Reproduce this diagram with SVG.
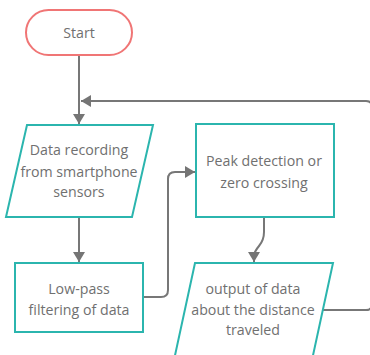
<svg xmlns="http://www.w3.org/2000/svg" width="370" height="355" viewBox="0 0 370 355">
<defs>
<marker id="ah" markerWidth="12" markerHeight="12" refX="10" refY="6" orient="auto" markerUnits="userSpaceOnUse">
<path d="M0,0 L10,6 L0,12 Z" fill="#757575"/>
</marker>
<style>
.box{fill:#fff;stroke:#2bb5ae;stroke-width:2}
.start{fill:#fff;stroke:#f07575;stroke-width:2}
.lbl{font-family:"Open Sans","Noto Sans",sans-serif;font-size:14.2px;fill:#707070;text-anchor:middle}
.con{fill:none;stroke:#777;stroke-width:2;marker-end:url(#ah)}
</style>
</defs>
<rect width="370" height="355" fill="#fff"/>
<g id="connectors">
<path class="con" d="M79,55 V124"/>
<path class="con" d="M323,310 H366 Q372,310 372,304 V107 Q372,101 366,101 H81"/>
<path class="con" d="M79,217 V262"/>
<path class="con" d="M143,297 H161 Q168,297 168,290 V179 Q168,172 175,172 H195"/>
<path class="con" d="M264,217 V232 Q264,240 259,246 Q254,252 254,256 V262"/>
</g>
<g id="start">
<rect class="start" x="26" y="10" width="106" height="45" rx="22.5"/>
<text class="lbl" x="79" y="38">Start</text>
</g>
<g id="data-recording">
<polygon class="box" points="27,125 153,125 132,217 6,217"/>
<text class="lbl" x="79" y="155">Data recording</text>
<text class="lbl" x="79" y="177">from smartphone</text>
<text class="lbl" x="79" y="197">sensors</text>
</g>
<g id="low-pass">
<rect class="box" x="15" y="263" width="128" height="69"/>
<text class="lbl" x="79" y="294">Low-pass</text>
<text class="lbl" x="79" y="315">filtering of data</text>
</g>
<g id="peak-detection">
<rect class="box" x="196" y="124" width="138" height="93"/>
<text class="lbl" x="264" y="166">Peak detection or</text>
<text class="lbl" x="264" y="188">zero crossing</text>
</g>
<g id="output">
<polygon class="box" points="195,263 333,263 312,360 174,360"/>
<text class="lbl" x="253" y="294">output of data</text>
<text class="lbl" x="253" y="315">about the distance</text>
<text class="lbl" x="253" y="335">traveled</text>
</g>
</svg>
